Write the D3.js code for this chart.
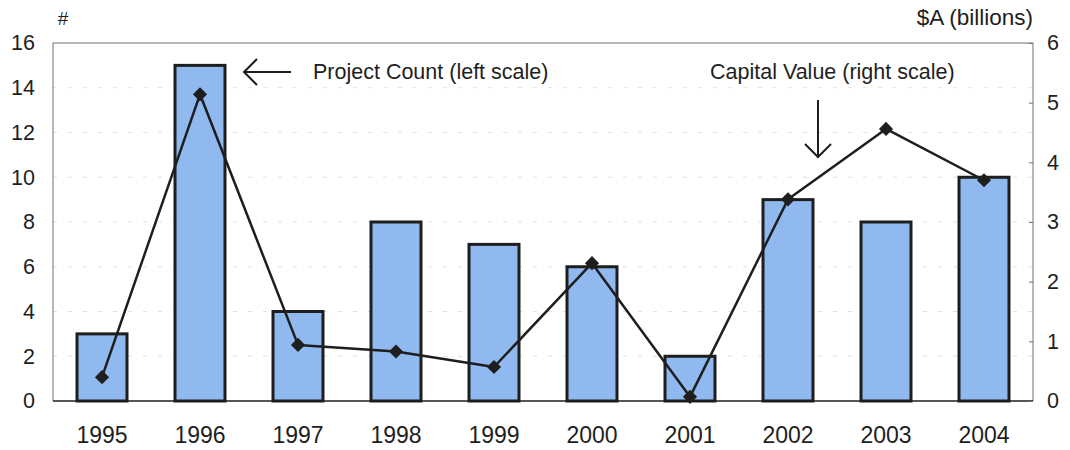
<!DOCTYPE html>
<html>
<head>
<meta charset="utf-8">
<script src="https://cdn.jsdelivr.net/npm/d3@7"></script>
<style>
  html, body { margin: 0; padding: 0; background: #fff; }
  svg { display: block; font-family: "Liberation Sans", Arial, Helvetica, sans-serif; }
</style>
</head>
<body>
<svg id="chart" width="1070" height="450"></svg>
<script>
// Project count (bars, left scale) and capital value in $A billions (line, right scale)
const years = ["1995", "1996", "1997", "1998", "1999", "2000", "2001", "2002", "2003", "2004"];
const projectCount = [3, 15, 4, 8, 7, 6, 2, 9, 8, 10];
const capitalValue = [0.40, 5.14, 0.94, 0.83, 0.57, 2.31, 0.07, 3.38, 4.56, 3.70];
const leftTicks = [0, 2, 4, 6, 8, 10, 12, 14, 16];
const rightTicks = [0, 1, 2, 3, 4, 5, 6];

const svg = d3.select("#chart");
const plot = { left: 53, right: 1033, top: 43, bottom: 401 };
const ink = "#1e1e1e";

const x = d3.scaleBand()
  .domain(years)
  .range([plot.left, plot.right])
  .paddingInner(0.49)
  .paddingOuter(0.245);
const yL = d3.scaleLinear().domain([0, 16]).range([plot.bottom, plot.top]);
const yR = d3.scaleLinear().domain([0, 6]).range([plot.bottom, plot.top]);

// faint horizontal gridlines at the left-scale ticks
svg.append("g")
  .selectAll("line")
  .data(leftTicks.filter(d => d > 0 && d < 16))
  .join("line")
  .attr("x1", plot.left).attr("x2", plot.right)
  .attr("y1", d => yL(d)).attr("y2", d => yL(d))
  .attr("stroke", "#c4c4c4")
  .attr("stroke-width", 1)
  .attr("stroke-dasharray", "4,11")
  .attr("opacity", 0.5);

// plot frame: top, left and right edges
svg.append("path")
  .attr("d", `M${plot.left},${plot.bottom}V${plot.top}H${plot.right}V${plot.bottom}`)
  .attr("fill", "none")
  .attr("stroke", "#707070")
  .attr("stroke-width", 1);

// bars
svg.append("g")
  .selectAll("rect")
  .data(years.map((y, i) => ({ year: y, count: projectCount[i] })))
  .join("rect")
  .attr("x", d => x(d.year))
  .attr("width", x.bandwidth())
  .attr("y", d => yL(d.count))
  .attr("height", d => yL(0) - yL(d.count))
  .attr("fill", "#8fb9ef")
  .attr("stroke", ink)
  .attr("stroke-width", 3);

// baseline
svg.append("line")
  .attr("x1", plot.left).attr("x2", plot.right)
  .attr("y1", plot.bottom).attr("y2", plot.bottom)
  .attr("stroke", ink).attr("stroke-width", 1.5);

// left axis
const leftAxis = svg.append("g")
  .attr("transform", `translate(${plot.left},0)`)
  .call(d3.axisLeft(yL).tickValues(leftTicks).tickSize(0).tickPadding(18));
leftAxis.select(".domain").remove();

// right axis with small inward ticks
const rightAxis = svg.append("g")
  .attr("transform", `translate(${plot.right},0)`)
  .call(d3.axisRight(yR).tickValues(rightTicks).tickFormat(d3.format("d"))
    .tickSizeInner(-4).tickSizeOuter(0).tickPadding(14));
rightAxis.select(".domain").remove();
rightAxis.selectAll(".tick line").attr("stroke", "#707070");

// bottom axis
const bottomAxis = svg.append("g")
  .attr("transform", `translate(0,${plot.bottom})`)
  .call(d3.axisBottom(x).tickSize(0).tickPadding(26));
bottomAxis.select(".domain").remove();

svg.selectAll(".tick text")
  .attr("fill", ink)
  .attr("font-size", 21.5)
  .attr("font-family", "'Liberation Sans', Arial, sans-serif");
bottomAxis.selectAll(".tick text").attr("font-size", 23);

// capital value line with diamond markers
const line = d3.line()
  .x((d, i) => x(years[i]) + x.bandwidth() / 2)
  .y(d => yR(d));
svg.append("path")
  .datum(capitalValue)
  .attr("d", line)
  .attr("fill", "none")
  .attr("stroke", ink)
  .attr("stroke-width", 2.5)
  .attr("stroke-linejoin", "round");

svg.append("g")
  .selectAll("path")
  .data(capitalValue)
  .join("path")
  .attr("d", d3.symbol(d3.symbolSquare, 100))
  .attr("transform", (d, i) => `translate(${x(years[i]) + x.bandwidth() / 2},${yR(d)}) rotate(45)`)
  .attr("fill", ink);

// axis unit labels
svg.append("text")
  .attr("x", 63).attr("y", 25)
  .attr("text-anchor", "middle")
  .attr("font-size", 19)
  .attr("fill", ink)
  .text("#");
svg.append("text")
  .attr("x", plot.right).attr("y", 25)
  .attr("text-anchor", "end")
  .attr("font-size", 22.5)
  .attr("fill", ink)
  .text("$A (billions)");

// annotations
const arrowHead = (g, x0, y0, dx, dy) => {
  g.append("path")
    .attr("d", `M${x0 + dx + dy},${y0 + dy + dx}L${x0},${y0}L${x0 + dx - dy},${y0 + dy - dx}`)
    .attr("fill", "none").attr("stroke", ink).attr("stroke-width", 2);
};
const ann = svg.append("g");
ann.append("line")
  .attr("x1", 244).attr("x2", 291).attr("y1", 72).attr("y2", 72)
  .attr("stroke", ink).attr("stroke-width", 2);
arrowHead(ann, 244, 72, 13, 0);
ann.append("text")
  .attr("x", 313).attr("y", 79)
  .attr("font-size", 21.5)
  .attr("fill", ink)
  .text("Project Count (left scale)");

ann.append("line")
  .attr("x1", 818).attr("x2", 818).attr("y1", 100).attr("y2", 157)
  .attr("stroke", ink).attr("stroke-width", 2);
arrowHead(ann, 818, 157, 0, -13);
ann.append("text")
  .attr("x", 710).attr("y", 79)
  .attr("font-size", 21.5)
  .attr("fill", ink)
  .text("Capital Value (right scale)");
</script>
</body>
</html>
